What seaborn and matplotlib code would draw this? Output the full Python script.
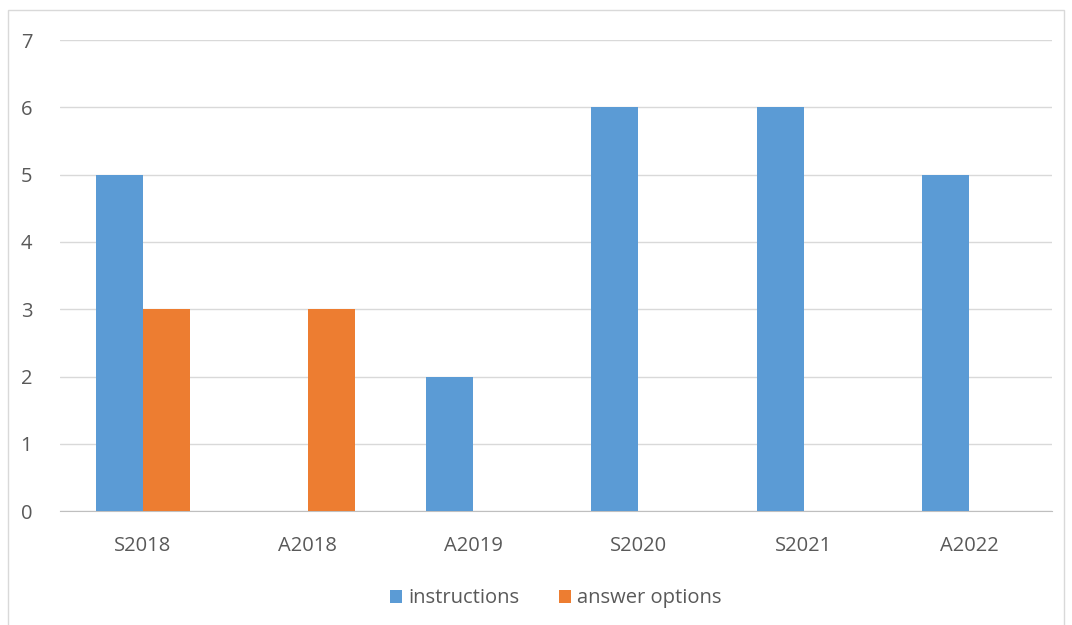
import pandas as pd
import numpy as np
import matplotlib.pyplot as plt
import seaborn as sns
from matplotlib.patches import Rectangle

#chart data
categories = ["S2018", "A2018", "A2019", "S2020", "S2021", "A2022"]
instructions = [5, 0, 2, 6, 6, 5]
answer_options = [3, 3, 0, 0, 0, 0]

#long form table for seaborn
df = pd.DataFrame({
    "session": categories * 2,
    "count": instructions + answer_options,
    "type": ["instructions"] * len(categories) + ["answer options"] * len(categories),
})

sns.set_style("white")
plt.rcParams['font.family'] = ['Open Sans', 'DejaVu Sans']

fig = plt.figure(figsize=(10.72, 6.25), dpi=100)
ax = fig.add_axes([0.056, 0.182, 0.925, 0.754])

palette = {"instructions": "#5B9BD5", "answer options": "#ED7D31"}
sns.barplot(data=df, x="session", y="count", hue="type", palette=palette,
            width=0.57, gap=0, saturation=1, linewidth=0, ax=ax, zorder=3)

ax.set_ylim(0, 7)
ax.set_yticks(range(0, 8))
ax.grid(axis='y', color='#D9D9D9', linewidth=1, zorder=0)
ax.set_xlabel("")
ax.set_ylabel("")
sns.despine(ax=ax, left=True, top=True, right=True)
ax.spines['bottom'].set_color('#BFBFBF')
ax.tick_params(axis='both', length=0, labelsize=14.5, colors='#595959')
ax.tick_params(axis='x', pad=18)
ax.tick_params(axis='y', pad=20)
ax.set_xlim(-0.5, len(categories) - 0.5)

#legend at bottom
leg = ax.legend(loc='upper center', bbox_to_anchor=(0.5, -0.125), ncol=2, frameon=False,
                fontsize=14.5, handlelength=0.6, handleheight=0.6, handletextpad=0.3,
                columnspacing=2.0)
for t in leg.get_texts():
    t.set_color('#595959')

#light frame around the chart
fig.patches.append(Rectangle((0.0075, -0.01), 0.985, 0.994, transform=fig.transFigure,
                             fill=False, edgecolor='#D9D9D9', linewidth=1))

plt.savefig("out.png", dpi=100)
